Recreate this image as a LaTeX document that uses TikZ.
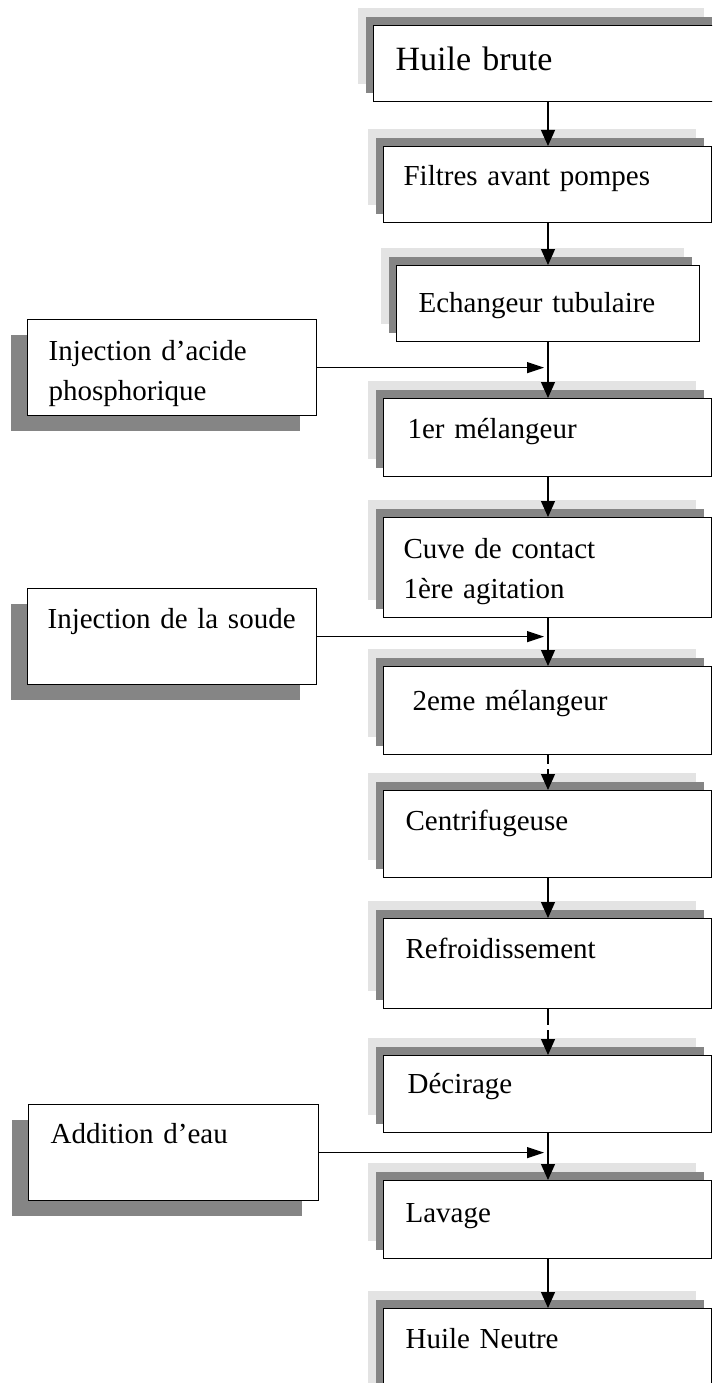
\documentclass[tikz,border=0pt]{standalone}
\usepackage{fontspec}
\setmainfont{Liberation Serif}
\usetikzlibrary{arrows.meta,shadows}
\definecolor{shdark}{HTML}{858585}
\definecolor{shlight}{HTML}{E3E3E3}

\begin{document}
\begin{tikzpicture}[x=1pt, y=-1pt, line width=1.2pt,
  box/.style={draw, fill=white, anchor=north west, inner sep=0pt, align=left,
    font=\fontsize{29pt}{40pt}\selectfont},
  stage/.style={box, minimum width=328pt,
    drop shadow={shadow xshift=-16pt, shadow yshift=18pt, fill=shlight, opacity=1},
    drop shadow={shadow xshift=-8pt, shadow yshift=9pt, fill=shdark, opacity=1}},
  feed/.style={box, minimum width=289pt,
    drop shadow={shadow xshift=-17pt, shadow yshift=-15pt, fill=shdark, opacity=1}},
  flow/.style={-{Triangle[length=16pt, width=14pt]}},
  inflow/.style={-{Triangle[length=17pt, width=11pt]}}]
  \useasboundingbox (0,0) rectangle (712,1383);
  \clip (0,0) rectangle (712,1383);

  % main line
  \node[stage, minimum width=346pt, text width=302pt, text height=45pt, text depth=31pt,
    font=\fontsize{34pt}{40pt}\selectfont] (brute) at (373,25) {Huile brute};
  \node[stage, text width=288pt, text height=39pt, text depth=37pt] (filtres) at (383,146) {Filtres avant pompes};
  \node[stage, minimum width=303pt, text width=259pt, text height=47pt, text depth=29pt] (echang) at (396,265) {Echangeur tubulaire};
  \node[stage, text width=280pt, text height=40pt, text depth=38pt] (melA) at (383,398) {1er mélangeur};
  \node[stage, text width=288pt, text height=41pt, text depth=59pt] (cuve) at (383,517) {Cuve de contact\\1ère agitation};
  \node[stage, text width=270pt, text height=44pt, text depth=44pt] (melB) at (383,666) {2eme mélangeur};
  \node[stage, text width=284pt, text height=40pt, text depth=47pt] (centri) at (383,790) {Centrifugeuse};
  \node[stage, text width=284pt, text height=40pt, text depth=50pt] (refroid) at (383,918) {Refroidissement};
  \node[stage, text width=280pt, text height=38pt, text depth=39pt] (decir) at (383,1055) {Décirage};
  \node[stage, text width=284pt, text height=42pt, text depth=36pt] (lavage) at (383,1180) {Lavage};
  \node[stage, text width=284pt, text height=40pt, text depth=60pt] (neutre) at (383,1308) {Huile Neutre};

  % injections
  \node[feed, text width=247pt, text height=41pt, text depth=55pt] (acide) at (27,319) {Injection d’acide\\phosphorique};
  \node[feed, text width=249pt, text height=40pt, text depth=56pt] (soude) at (27,588) {Injection de la soude};
  \node[feed, minimum width=290pt, text width=246pt, text height=39pt, text depth=57pt] (eau) at (28,1104) {Addition d’eau};

  \coordinate (spine) at (548,0);
  \coordinate (inlet) at (544,0);

  \draw[flow] (brute.south -| spine) -- (filtres.north -| spine);
  \draw[flow] (filtres.south -| spine) -- (echang.north -| spine);
  \draw[flow] (echang.south -| spine) -- (melA.north -| spine);
  \draw[flow] (melA.south -| spine) -- (cuve.north -| spine);
  \draw[flow] (cuve.south -| spine) -- (melB.north -| spine);
  \draw[flow, dash pattern=on 9pt off 5pt on 40pt] (melB.south -| spine) -- (centri.north -| spine);
  \draw[flow] (centri.south -| spine) -- (refroid.north -| spine);
  \draw[flow, dash pattern=on 16pt off 5pt on 40pt] (refroid.south -| spine) -- (decir.north -| spine);
  \draw[flow] (decir.south -| spine) -- (lavage.north -| spine);
  \draw[flow] (lavage.south -| spine) -- (neutre.north -| spine);

  \draw[inflow] (acide.east) -- (acide.east -| inlet);
  \draw[inflow] (soude.east) -- (soude.east -| inlet);
  \draw[inflow] (eau.east) -- (eau.east -| inlet);
\end{tikzpicture}
\end{document}
